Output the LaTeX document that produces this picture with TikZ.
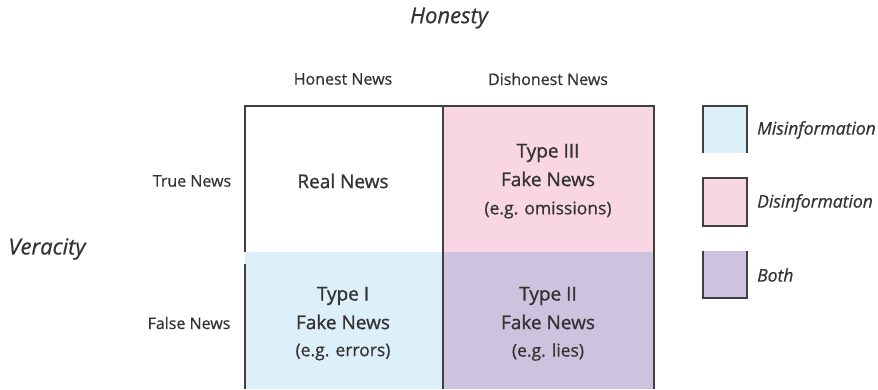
\documentclass[tikz,border=0pt]{standalone}
\usepackage{fontspec}
\setmainfont{Open Sans}[FakeBold=0.6]
\newfontfamily\cellfont{Open Sans}[FakeBold=1.0]
\definecolor{misc}{HTML}{DDF0FA}
\definecolor{disc}{HTML}{F9D6E4}
\definecolor{bothc}{HTML}{CEC3DE}
\definecolor{ink}{HTML}{333333}
\definecolor{gridc}{HTML}{404040}
\begin{document}
\begin{tikzpicture}[x=1pt,y=-1pt,
  txt/.style={text=ink,font=\fontsize{16}{19}\selectfont,inner sep=0pt},
  cell/.style={text=ink,font=\cellfont\fontsize{19}{22}\selectfont,inner sep=0pt},
  eg/.style={text=ink,font=\fontsize{17.5}{20}\selectfont,inner sep=0pt},
  ital/.style={text=ink,font=\fontsize{22}{26}\selectfont\itshape,inner sep=0pt},
  litxt/.style={text=ink,font=\fontsize{17.5}{20}\selectfont\itshape,inner sep=0pt,anchor=west},
  gl/.style={draw=gridc,line width=1.3pt}]
\useasboundingbox (0,0) rectangle (878,389);
% fills
\fill[disc] (443,106) rectangle (654,252);
\fill[misc] (245,252) rectangle (443,389);
\fill[bothc] (443,252) rectangle (654,389);
% grid lines
\draw[gl] (245,264) -- (245,389);
\draw[gl] (245,252) -- (245,106) -- (654,106) -- (654,389);
\draw[gl] (443,106) -- (443,389);
% legend
\fill[misc] (703,106) rectangle (747,153);
\draw[gl] (703,153) -- (703,106) -- (747,106) -- (747,153);
\fill[disc] (703,178) rectangle (747,226);
\draw[gl] (703,178) rectangle (747,226);
\fill[bothc] (703,251) rectangle (747,298);
\draw[gl] (703,251) -- (703,298) -- (747,298) -- (747,251);
\node[litxt] (lmis) at (757,130) {Misinformation};
\node[litxt] (ldis) at (757,203) {Disinformation};
\node[litxt] (lboth) at (757,275) {Both};
% headings
\node[ital] (honesty) at (449,18) {Honesty};
\node[ital] (veracity) at (47,249) {Veracity};
\node[txt] (hn) at (343,79) {Honest News};
\node[txt] (dn) at (548,79) {Dishonest News};
\node[txt] (tn) at (192,181) {True News};
\node[txt] (fn) at (189,323) {False News};
% cells
\node[cell] (real) at (343,181) {Real News};
\node[cell] (t3a) at (548,153) {Type III};
\node[cell] (t3b) at (548,179) {Fake News};
\node[eg] (t3c) at (548,210) {(e.g. omissions)};
\node[cell] (t1a) at (343,296) {Type I};
\node[cell] (t1b) at (343,322) {Fake News};
\node[eg] (t1c) at (343,352) {(e.g. errors)};
\node[cell] (t2a) at (548,296) {Type II};
\node[cell] (t2b) at (548,322) {Fake News};
\node[eg] (t2c) at (548,352) {(e.g. lies)};
\end{tikzpicture}
\end{document}
